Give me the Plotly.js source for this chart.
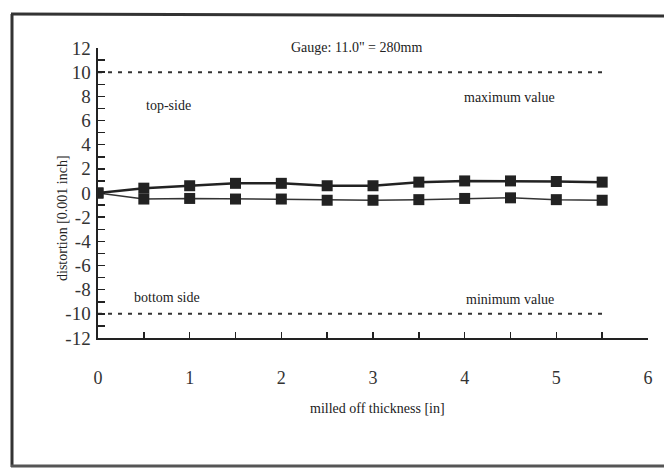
<!DOCTYPE html>
<html>
<head>
<meta charset="utf-8">
<script src="https://cdn.plot.ly/plotly-3.0.1.min.js"></script>
<style>html,body{margin:0;padding:0;background:#fff;}#chart{width:664px;height:474px;}</style>
</head>
<body>
<div id="chart"></div>
<script>
// Data
var thickness = [0, 0.5, 1, 1.5, 2, 2.5, 3, 3.5, 4, 4.5, 5, 5.5];
var topSide = [0, 0.4, 0.6, 0.8, 0.8, 0.6, 0.6, 0.9, 1.0, 1.0, 0.95, 0.9];
var bottomSide = [0, -0.5, -0.45, -0.5, -0.5, -0.6, -0.6, -0.55, -0.45, -0.4, -0.55, -0.6];
var limitX = [0, 5.55];
var maxValue = [10, 10];
var minValue = [-10, -10];
var xTicks = [0, 1, 2, 3, 4, 5, 6];
var yTicks = [-12, -10, -8, -6, -4, -2, 0, 2, 4, 6, 8, 10, 12];

var serif = '"Liberation Serif", "Times New Roman", serif';
var ink = '#222';

var traces = [
  {x: limitX, y: maxValue, mode: 'lines', line: {color: '#333', width: 2, dash: '4px,6px'}, hoverinfo: 'skip'},
  {x: limitX, y: minValue, mode: 'lines', line: {color: '#333', width: 2, dash: '4px,6px'}, hoverinfo: 'skip'},
  {x: thickness, y: topSide, mode: 'lines+markers', line: {color: ink, width: 2.5},
   marker: {symbol: 'square', size: 11, color: ink}},
  {x: thickness, y: bottomSide, mode: 'lines+markers', line: {color: '#333', width: 1.5},
   marker: {symbol: 'square', size: 11, color: ink}}
];

function ann(text, x, y, size, extra) {
  var a = {text: text, x: x, y: y, xref: 'paper', yref: 'paper', showarrow: false,
    font: {family: serif, size: size, color: ink}, xanchor: 'center', yanchor: 'middle'};
  for (var k in extra) a[k] = extra[k];
  return a;
}
// pixel helpers: plot area x 98..648, y 48..338
function px(x) { return (x - 98) / 550; }
function py(y) { return (338 - y) / 290; }

var layout = {
  width: 664, height: 474,
  margin: {l: 98, r: 16, t: 48, b: 136},
  paper_bgcolor: '#fff', plot_bgcolor: '#fff',
  showlegend: false,
  xaxis: {
    range: [0, 6], tickvals: xTicks, ticktext: xTicks.map(String),
    showgrid: false, zeroline: false, showline: true, linecolor: ink, linewidth: 2,
    ticks: 'inside', ticklen: 6, tickwidth: 1.5, tickcolor: ink,
    minor: {dtick: 0.5, tick0: 0, ticks: 'inside', ticklen: 6, tickwidth: 1.5, tickcolor: ink},
    tickfont: {family: serif, size: 18, color: '#333'}, ticklabelstandoff: 22
  },
  yaxis: {
    range: [-12, 12], tickvals: yTicks, ticktext: yTicks.map(String),
    showgrid: false, zeroline: false, showline: true, linecolor: ink, linewidth: 2.5,
    ticks: 'inside', ticklen: 7, tickwidth: 1.5, tickcolor: ink,
    minor: {dtick: 1, tick0: 0, ticks: 'inside', ticklen: 7, tickwidth: 1.5, tickcolor: ink},
    tickfont: {family: serif, size: 19, color: '#333'}, ticklabelstandoff: 1
  },
  annotations: [
    ann('Gauge: 11.0" = 280mm', px(356), py(47), 14),
    ann('top-side', px(168), py(106), 14),
    ann('maximum value', px(509), py(97), 14),
    ann('bottom side', px(167), py(297), 14),
    ann('minimum value', px(510), py(299), 14),
    ann('milled off thickness [in]', px(378), py(408), 14),
    ann('distortion [0.001 inch]', px(62), py(218), 14, {textangle: -90})
  ],
  shapes: [
    {type: 'line', xref: 'paper', yref: 'paper', x0: px(12), x1: px(12), y0: py(14), y1: py(467), line: {color: '#333', width: 3}},
    {type: 'line', xref: 'paper', yref: 'paper', x0: px(11), x1: px(664), y0: py(14), y1: py(16), line: {color: '#333', width: 3}},
    {type: 'line', xref: 'paper', yref: 'paper', x0: px(11), x1: px(664), y0: py(466), y1: py(466), line: {color: '#555', width: 3}}
  ]
};

Plotly.newPlot('chart', traces, layout, {displayModeBar: false, staticPlot: true});
</script>
</body>
</html>
